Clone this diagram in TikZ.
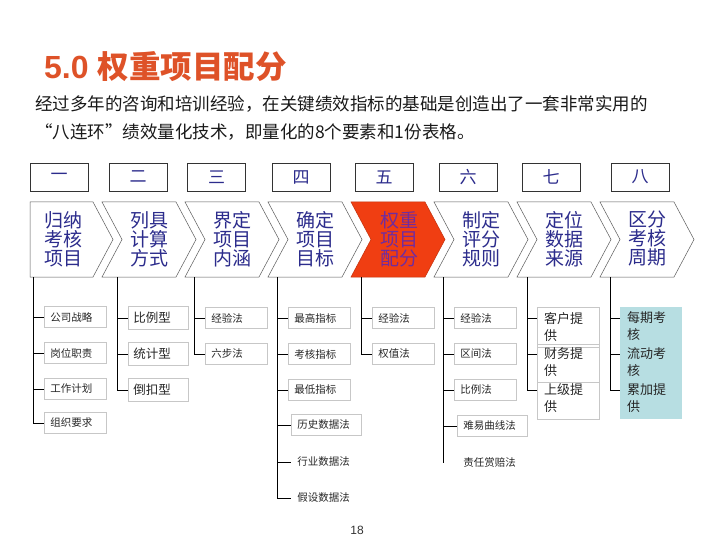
\documentclass[tikz,border=0pt]{standalone}
\usepackage{fontspec}
\setmainfont{Liberation Sans}
\newfontfamily\cjk{Noto Sans CJK SC}
\definecolor{titlecol}{RGB}{222,82,40}
\definecolor{navy}{RGB}{44,44,140}
\definecolor{redfill}{RGB}{240,62,18}
\definecolor{purp}{RGB}{112,44,160}
\definecolor{tealfill}{RGB}{183,222,226}
\tikzset{
 chev/.style={draw=black!65, line width=0.5pt, fill=white},
 chevtxt/.style={font=\cjk\fontsize{19}{19}\selectfont, text=navy, align=center, inner sep=0pt},
 numbox/.style={draw=black!80, line width=0.6pt, minimum width=58, minimum height=28, inner sep=0pt, font=\cjk\fontsize{17}{17}\selectfont, text=navy},
 sbox/.style={draw=black!22, line width=0.5pt, anchor=west, minimum height=21, inner xsep=6, inner ysep=0pt, text width=50, align=left, font=\cjk\fontsize{10.5}{11}\selectfont, text=black!85},
 mbox/.style={sbox, font=\cjk\fontsize{12.5}{13}\selectfont, minimum height=23, inner xsep=5},
 plain/.style={sbox, draw=none},
 tbox/.style={draw=black!22, line width=0.5pt, anchor=north west, minimum width=62, inner sep=0pt},
 ttxt/.style={anchor=west, inner sep=0pt, align=left, font=\cjk\fontsize{13}{17}\selectfont, text=black!85},
 tree/.style={draw=black, line width=0.7pt},
}
\begin{document}
\begin{tikzpicture}[x=1pt,y=-1pt]
\useasboundingbox (0,0) rectangle (720,540);
% title and intro
\node[anchor=west, inner sep=0pt, text=titlecol] (title) at (44,67)
  {\fontsize{32}{32}\selectfont\bfseries 5.0 \cjk\bfseries\fontsize{31.5}{32}\selectfont 权重项目配分};
\node[anchor=west, inner sep=0pt, font=\cjk\fontsize{17.5}{18}\selectfont, text=black!90] (intro1) at (35,104)
  {经过多年的咨询和培训经验，在关键绩效指标的基础是创造出了一套非常实用的};
\node[anchor=west, inner sep=0pt, font=\cjk\fontsize{17.5}{18}\selectfont, text=black!90] (intro2) at (35,132)
  {“八连环”绩效量化技术，即量化的8个要素和1份表格。};
% number boxes
\foreach \x/\n/\t in {59/1/一,138/2/二,216.5/3/三,301/4/四,384/5/五,468/6/六,551/7/七,640/8/八}
  \node[numbox] (num\n) at (\x,177) {\t};
% chevrons
\path[chev] (30,202) -- (93,202) -- (113,239.5) -- (93,277) -- (30,277) -- cycle;
\foreach \s in {102,185,268,434,517,600}
  \path[chev] (\s,202) -- (\s+74,202) -- (\s+94,239.5) -- (\s+74,277) -- (\s,277) -- (\s+20,239.5) -- cycle;
\path[fill=redfill, draw=redfill!80!black, line width=0.5pt] (351,202) -- (425,202) -- (445,239.5) -- (425,277) -- (351,277) -- (371,239.5) -- cycle;
\foreach \x/\n/\t in {63/1/{归纳\\考核\\项目},149/2/{列具\\计算\\方式},232/3/{界定\\项目\\内涵},315/4/{确定\\项目\\目标},481/6/{制定\\评分\\规则},564/7/{定位\\数据\\来源},647/8/{区分\\考核\\周期}}
  \node[chevtxt] (chev\n) at (\x,239) {\t};
\node[chevtxt, text=purp] (chev5) at (399,239) {权重\\项目\\配分};
% tree tops
\foreach \x/\n in {33/1,117/2,194/3,277/4,361/5,443/6,527/7,610/8}
  \coordinate (top\n) at (\x,277);
% column 1
\node[sbox] (b11) at (44,317) {公司战略};
\node[sbox] (b12) at (44,353) {岗位职责};
\node[sbox] (b13) at (44,389) {工作计划};
\node[sbox] (b14) at (44,423) {组织要求};
% column 2
\node[mbox] (b21) at (128,318) {比例型};
\node[mbox] (b22) at (128,354) {统计型};
\node[mbox] (b23) at (128,390) {倒扣型};
% column 3
\node[sbox] (b31) at (205,318) {经验法};
\node[sbox] (b32) at (205,354) {六步法};
% column 4
\node[sbox] (b41) at (288,318) {最高指标};
\node[sbox] (b42) at (288,354) {考核指标};
\node[sbox] (b43) at (288,390) {最低指标};
\node[sbox, text width=58] (b44) at (291,425) {历史数据法};
\node[plain, text width=58] (b45) at (291,462) {行业数据法};
\node[plain, text width=58] (b46) at (291,498) {假设数据法};
% column 5
\node[sbox] (b51) at (372,318) {经验法};
\node[sbox] (b52) at (372,354) {权值法};
% column 6
\node[sbox] (b61) at (454,318) {经验法};
\node[sbox] (b62) at (454,354) {区间法};
\node[sbox] (b63) at (454,390) {比例法};
\node[sbox, text width=58] (b64) at (457,426) {难易曲线法};
\node[plain, text width=58] (b65) at (457,462) {责任赏赔法};
\coordinate (end6) at (443,463);
% column 7
\node[tbox, minimum height=40] (b71) at (537,307) {};
\node[tbox, minimum height=38] (b72) at (537,344) {};
\node[tbox, minimum height=37] (b73) at (537,382) {};
\node[ttxt] (t71) at (544,326.5) {客户提\\供};
\node[ttxt] (t72) at (544,362.5) {财务提\\供};
\node[ttxt] (t73) at (544,398.5) {上级提\\供};
\coordinate (a71) at (537,318);
\coordinate (a72) at (537,354);
\coordinate (a73) at (537,390);
% column 8
\node[tbox, draw=none, fill=tealfill, minimum height=112] (b8) at (620,307) {};
\node[ttxt] (t81) at (627,326.5) {每期考\\核};
\node[ttxt] (t82) at (627,362.5) {流动考\\核};
\node[ttxt] (t83) at (627,398.5) {累加提\\供};
\coordinate (a81) at (620,318);
\coordinate (a82) at (620,354);
\coordinate (a83) at (620,390);
% connectors
\foreach \b in {b11,b12,b13,b14} \draw[tree] (top1) |- (\b.west);
\foreach \b in {b21,b22,b23} \draw[tree] (top2) |- (\b.west);
\foreach \b in {b31,b32} \draw[tree] (top3) |- (\b.west);
\foreach \b in {b41,b42,b43,b44,b45,b46} \draw[tree] (top4) |- (\b.west);
\foreach \b in {b51,b52} \draw[tree] (top5) |- (\b.west);
\foreach \b in {b61,b62,b63,b64} \draw[tree] (top6) |- (\b.west);
\draw[tree] (top6) -- (end6);
\foreach \b in {a71,a72,a73} \draw[tree] (top7) |- (\b);
\foreach \b in {a81,a82,a83} \draw[tree] (top8) |- (\b);
% page number
\node[inner sep=0pt, font=\fontsize{12}{12}\selectfont, text=black!80] (page) at (357,530) {18};
\end{tikzpicture}
\end{document}
